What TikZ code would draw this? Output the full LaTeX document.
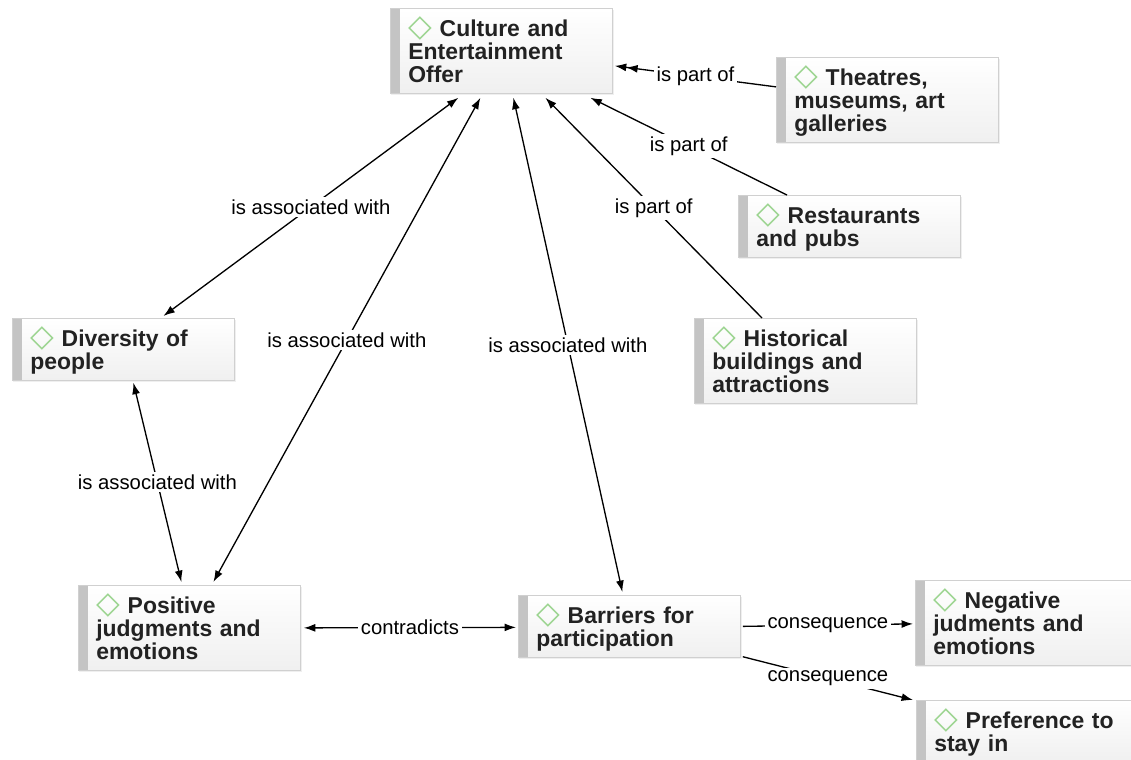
\documentclass[tikz,border=0pt]{standalone}
\usepackage{fontspec}
\setmainfont{Liberation Sans}
\newfontfamily\symfont{DejaVu Sans}
\usetikzlibrary{arrows.meta,calc,shadows}
\definecolor{bargray}{HTML}{C4C4C4}
\definecolor{framegray}{HTML}{D0D0D0}
\definecolor{icongreen}{HTML}{9BD48F}
\definecolor{textdark}{HTML}{222222}
\newcommand{\codeicon}{{\symfont\fontsize{17.5}{13}\selectfont\color{icongreen}◇}}

\begin{document}
\begin{tikzpicture}[
	x=0.5669pt, y=-0.5669pt,
	code/.style={ anchor=north west, rectangle, draw=framegray, top color=white, bottom color=black!6,
		text=textdark, font=\fontsize{13}{13.05}\selectfont\bfseries, align=left, text width=105.5pt,
		inner xsep=10.2pt, inner ysep=2pt,
		execute at begin node={\rule{0pt}{13.9pt}}, execute at end node={\rule[-4.2pt]{0pt}{4.2pt}},
		drop shadow={opacity=0.12, shadow xshift=0.6pt, shadow yshift=-0.9pt},
		path picture={ \fill[bargray] (path picture bounding box.north west) rectangle ($(path picture bounding box.south west)+(10,0)$); } },
	link/.style={ line width=0.75pt, -{Latex[length=6.5pt,width=4.5pt]} },
	both/.style={ line width=0.75pt, {Latex[length=6.5pt,width=4.5pt]}-{Latex[length=6.5pt,width=4.5pt]} },
	twice/.style={ line width=0.75pt, -{Latex[length=6.5pt,width=4.5pt]Latex[length=6.5pt,width=4.5pt]} },
	lbl/.style={ fill=white, inner sep=1.5pt, text=black, font=\fontsize{11.5}{12}\selectfont }
]
\useasboundingbox[fill=white] (0,0) rectangle (1131,759);

\node at (390,8) (culture) [code] {\codeicon\ Culture and\\Entertainment\\Offer};
\node at (776,57) (theatres) [code] {\codeicon\ Theatres,\\museums, art\\galleries};
\node at (738,195) (restaurants) [code] {\codeicon\ Restaurants\\and pubs};
\node at (694,318) (historical) [code] {\codeicon\ Historical\\buildings and\\attractions};
\node at (12,318) (diversity) [code] {\codeicon\ Diversity of\\people};
\node at (78,585) (positive) [code] {\codeicon\ Positive\\judgments and\\emotions};
\node at (518,595) (barriers) [code] {\codeicon\ Barriers for\\participation};
\node at (915,580) (negative) [code] {\codeicon\ Negative\\judments and\\emotions};
\node at (916,700) (preference) [code] {\codeicon\ Preference to\\stay in};

\draw [twice] ($(theatres.west)+(0,-13)$) -- node[lbl] {is part of} ($(culture.east)+(2,15)$);
\draw [link] ($(restaurants.north west)+(49,0)$) -- node[lbl] {is part of} ($(culture.south)+(89,4)$);
\draw [link] ($(historical.north west)+(68,0)$) -- node[lbl] {is part of} ($(culture.south)+(44,4)$);
\draw [both] ($(culture.south)+(-43,4)$) -- node[lbl] {is associated with} ($(diversity.north)+(40,-2)$);
\draw [both] ($(culture.south)+(-21,4)$) -- node[lbl] {is associated with} ($(positive.north)+(24,-3)$);
\draw [both] ($(culture.south)+(12,4)$) -- node[lbl] {is associated with} ($(barriers.north)+(-7,-3)$);
\draw [both] ($(diversity.south)+(10,2)$) -- node[lbl] {is associated with} ($(positive.north)+(-8,-3)$);
\draw [both] ($(positive.east)+(3,0)$) -- node[lbl] {contradicts} ($(barriers.west)+(-2,1)$);
\draw [link] ($(barriers.east)+(2,0)$) -- node[lbl] {consequence} ($(negative.west)+(-2,1)$);
\draw [link] ($(barriers.south east)+(2,-1)$) -- node[lbl] {consequence} ($(preference.north west)+(-3,0)$);

\end{tikzpicture}
\end{document}
